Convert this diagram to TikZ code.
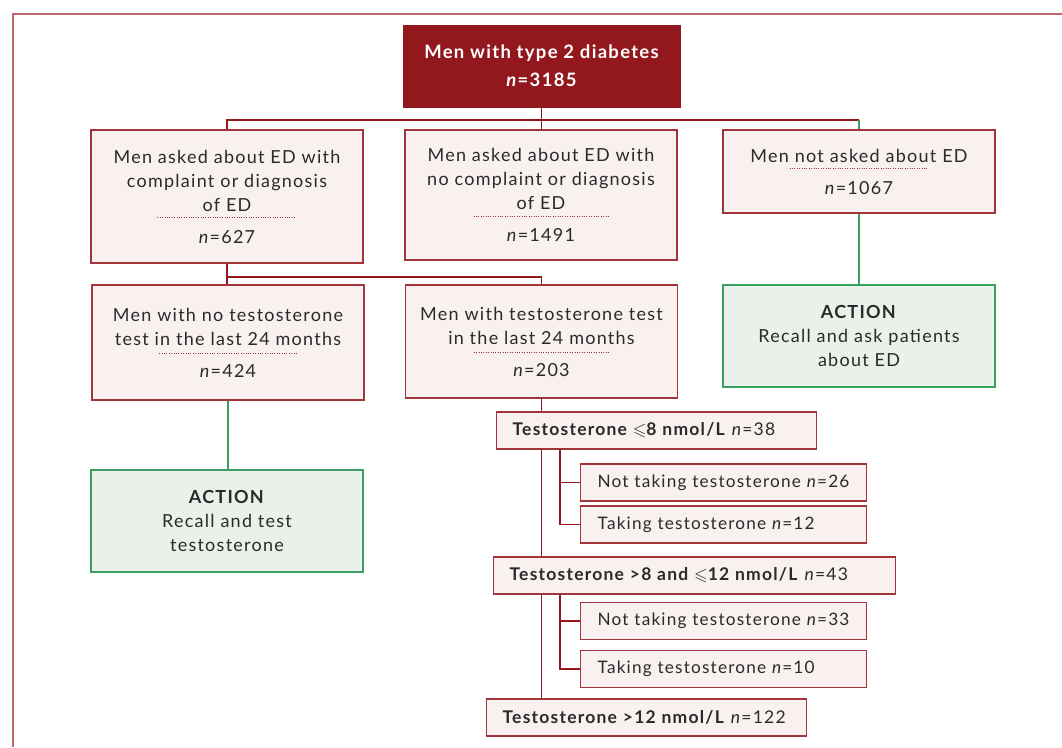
\documentclass[tikz,border=0pt]{standalone}
\usepackage{amssymb}
\usepackage{fontspec}
\setmainfont{Lato}[LetterSpace=7]
\usepackage{xcolor}
\usetikzlibrary{calc, positioning}
\definecolor{darkred}{HTML}{92181D}
\definecolor{boxred}{HTML}{A4343B}
\definecolor{boxfill}{HTML}{F9F1F0}
\definecolor{framered}{HTML}{C2646B}
\definecolor{actgreen}{HTML}{3A9E60}
\definecolor{actfill}{HTML}{EAF1EA}
\definecolor{txt}{HTML}{2A2A2A}
\newcommand{\seprule}[1]{\textcolor{boxred}{\leaders\hbox to 2.4pt{\hss\rule{1pt}{0.8pt}\hss}\hskip #1\relax}}

\begin{document}
\begin{tikzpicture}[x=1pt, y=-1pt,
  box/.style={draw=boxred, fill=boxfill, line width=1.2pt, text=txt, align=center,
    minimum width=272pt, font=\fontsize{18}{24}\selectfont},
  actbox/.style={box, draw=actgreen, fill=actfill},
  topbox/.style={draw=darkred, fill=darkred, text=white, align=center,
    minimum width=277pt, minimum height=82pt, font=\bfseries\fontsize{18.5}{28}\selectfont},
  levelbox/.style={draw=boxred, fill=boxfill, line width=1.2pt, text=txt, anchor=west,
    align=left, minimum height=37pt, inner xsep=16pt, font=\fontsize{17.5}{20}\selectfont},
  subbox/.style={levelbox, inner xsep=17pt, text width=252pt, font=\fontsize{17.2}{20}\selectfont},
  link/.style={draw=darkred, line width=1.2pt},
  golink/.style={draw=actgreen, line width=1.2pt}]
  \useasboundingbox (0,0) rectangle (1062,747);
  \draw[framered, line width=2pt] (13,747) -- (13,14) -- (1062,14);

  \node[topbox] (all) at (541.5,66) {Men with type 2 diabetes\\\textit{n}=3185};
  \node[box, minimum height=133pt] (compl) at (227,196.5) {Men asked about ED with\\complaint or diagnosis\\of ED\\[-17pt]\seprule{141pt}\\[1pt]\textit{n}=627};
  \node[box, minimum height=130pt] (nocompl) at (541,195) {Men asked about ED with\\no complaint or diagnosis\\of ED\\[-17pt]\seprule{141pt}\\[1pt]\textit{n}=1491};
  \node[box, minimum height=83pt] (notasked) at (859,171.5) {Men not asked about ED\\[-17pt]\seprule{141pt}\\[1pt]\textit{n}=1067};
  \node[box, minimum height=115pt] (notest) at (228,342.5) {Men with no testosterone\\test in the last 24 months\\[-15pt]\seprule{141pt}\\[-1pt]\textit{n}=424};
  \node[box, minimum height=113pt] (test) at (541.5,341.5) {Men with testosterone test\\in the last 24 months\\[-15pt]\seprule{141pt}\\[-1pt]\textit{n}=203};
  \node[actbox, minimum height=102pt] (askED) at (859,336) {\textbf{ACTION}\\Recall and ask patients\\about ED};
  \node[actbox, minimum height=102pt] (recall) at (227,521) {\textbf{ACTION}\\Recall and test\\testosterone};

  \node[levelbox, text width=288pt] (low) at (496,430.5) {\textbf{Testosterone $\leqslant$8 nmol/L} \textit{n}=38};
  \node[subbox] (lownot) at (580,482.5) {Not taking testosterone \textit{n}=26};
  \node[subbox] (lowtak) at (580,524.5) {Taking testosterone \textit{n}=12};
  \node[levelbox, text width=370pt] (mid) at (493,575.5) {\textbf{Testosterone >8 and $\leqslant$12 nmol/L} \textit{n}=43};
  \node[subbox] (midnot) at (580,621) {Not taking testosterone \textit{n}=33};
  \node[subbox] (midtak) at (580,669) {Taking testosterone \textit{n}=10};
  \node[levelbox, text width=288pt] (high) at (486,717.5) {\textbf{Testosterone >12 nmol/L} \textit{n}=122};

  % first split
  \coordinate (split) at (541,120);
  \draw[link] (all.south) -- (all.south |- nocompl.north);
  \draw[link] (compl.north) |- (split) -- (split -| notasked.north);
  \draw[golink] (split -| notasked.north) -- (notasked.north);
  % second split
  \coordinate (split2) at (227,277);
  \draw[link] (compl.south) -- (compl.south |- notest.north);
  \draw[link] (split2) -| (test.north);
  \draw[golink] (notest.south) -- (notest.south |- recall.north);
  \draw[golink] (notasked) -- (askED);
  % testosterone levels
  \draw[link] (test.south) -- (test.south |- low.north);
  \draw[link] (test.south |- low.south) -- (test.south |- mid.north);
  \draw[link] (test.south |- mid.south) -- (test.south |- high.north);
  \coordinate (lowfork) at ($(low.south west)+(64,0)$);
  \draw[link] (lowfork) |- (lownot.west);
  \draw[link] (lowfork) |- (lowtak.west);
  \coordinate (midfork) at (lowfork |- mid.south);
  \draw[link] (midfork) |- (midnot.west);
  \draw[link] (midfork) |- (midtak.west);
\end{tikzpicture}
\end{document}
